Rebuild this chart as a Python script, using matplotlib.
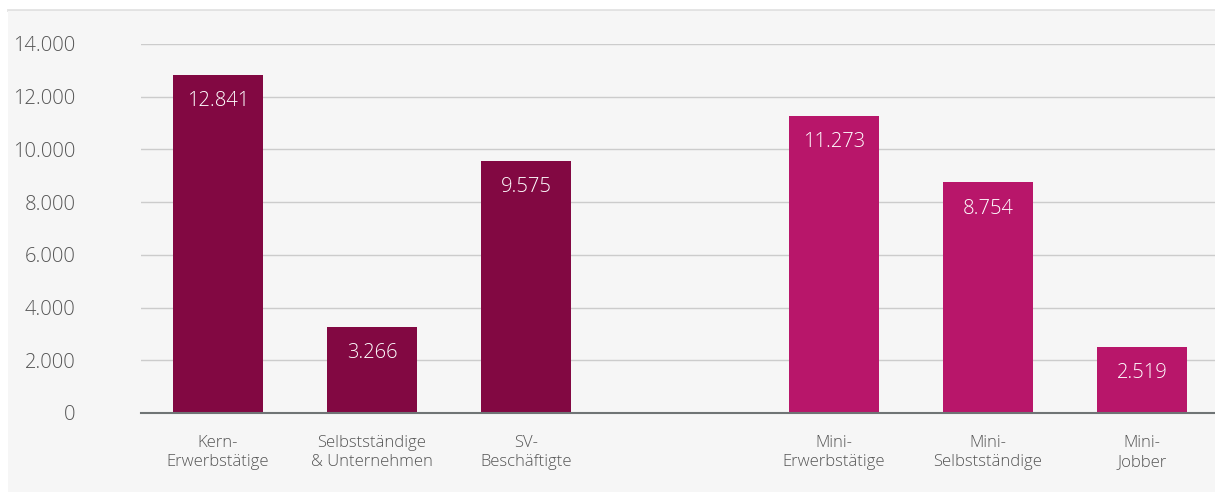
import numpy as np
import matplotlib.pyplot as plt
from matplotlib.patches import Rectangle
from matplotlib.ticker import FuncFormatter
from matplotlib import rcParams
rcParams["font.family"] = "Open Sans"
rcParams["font.weight"] = "light"

# Beschäftigte nach Gruppen (in Tausend)
categories = ["Kern-\nErwerbstätige", "Selbstständige\n& Unternehmen", "SV-\nBeschäftigte",
              "", "Mini-\nErwerbstätige", "Mini-\nSelbstständige", "Mini-\nJobber"]
values = [12841, 3266, 9575, np.nan, 11273, 8754, 2519]
colors = ["#820842", "#820842", "#820842", "none", "#b8166a", "#b8166a", "#b8166a"]
yticks = [0, 2000, 4000, 6000, 8000, 10000, 12000, 14000]

def de_format(v, pos=None):
    return f"{v:,.0f}".replace(",", ".")

fig = plt.figure(figsize=(12.15, 4.94), dpi=100)
fig.patch.set_facecolor("white")
# grey panel behind the chart
fig.patches.append(Rectangle((8 / 1215, 2 / 494), 1 - 8 / 1215, 481 / 494,
                             transform=fig.transFigure, facecolor="#f6f6f6",
                             edgecolor="none", zorder=-10))
fig.lines.append(plt.Line2D([8 / 1215, 1], [484 / 494, 484 / 494], transform=fig.transFigure,
                            color="#e2e2e2", linewidth=2, zorder=-10))

ax = fig.add_axes([141 / 1215, 1 - 413 / 494, 1 - 141 / 1215, (413 - 44) / 494])
ax.set_facecolor("none")

x = np.arange(len(categories))
bars = ax.bar(x, np.nan_to_num(values), width=0.585, color=colors, zorder=3)

for xi, v in zip(x, values):
    if np.isnan(v):
        continue
    ax.annotate(de_format(v), (xi, v), xytext=(0, -19), textcoords="offset points",
                ha="center", va="center", color="white", fontsize=14.5)

ax.set_xlim(-0.5, 6.5 - 4 / 154)
ax.set_ylim(0, 14000)
ax.set_yticks(yticks)
ax.yaxis.set_major_formatter(FuncFormatter(de_format))
ax.yaxis.grid(True, color="#cccccc", linewidth=1)
ax.set_axisbelow(True)
ax.set_xticks(x)
ax.set_xticklabels(categories, fontsize=12, color="#555555", linespacing=1.25)

for s in ["top", "right", "left"]:
    ax.spines[s].set_visible(False)
ax.spines["bottom"].set_color("#6f7475")
ax.spines["bottom"].set_linewidth(1.5)
ax.spines["bottom"].set_zorder(4)
ax.tick_params(axis="y", length=0, pad=47, labelsize=14.5, labelcolor="#555555")
ax.tick_params(axis="x", length=0, pad=16)

fig.savefig("out.png", dpi=100)
print("Saved to out.png")
